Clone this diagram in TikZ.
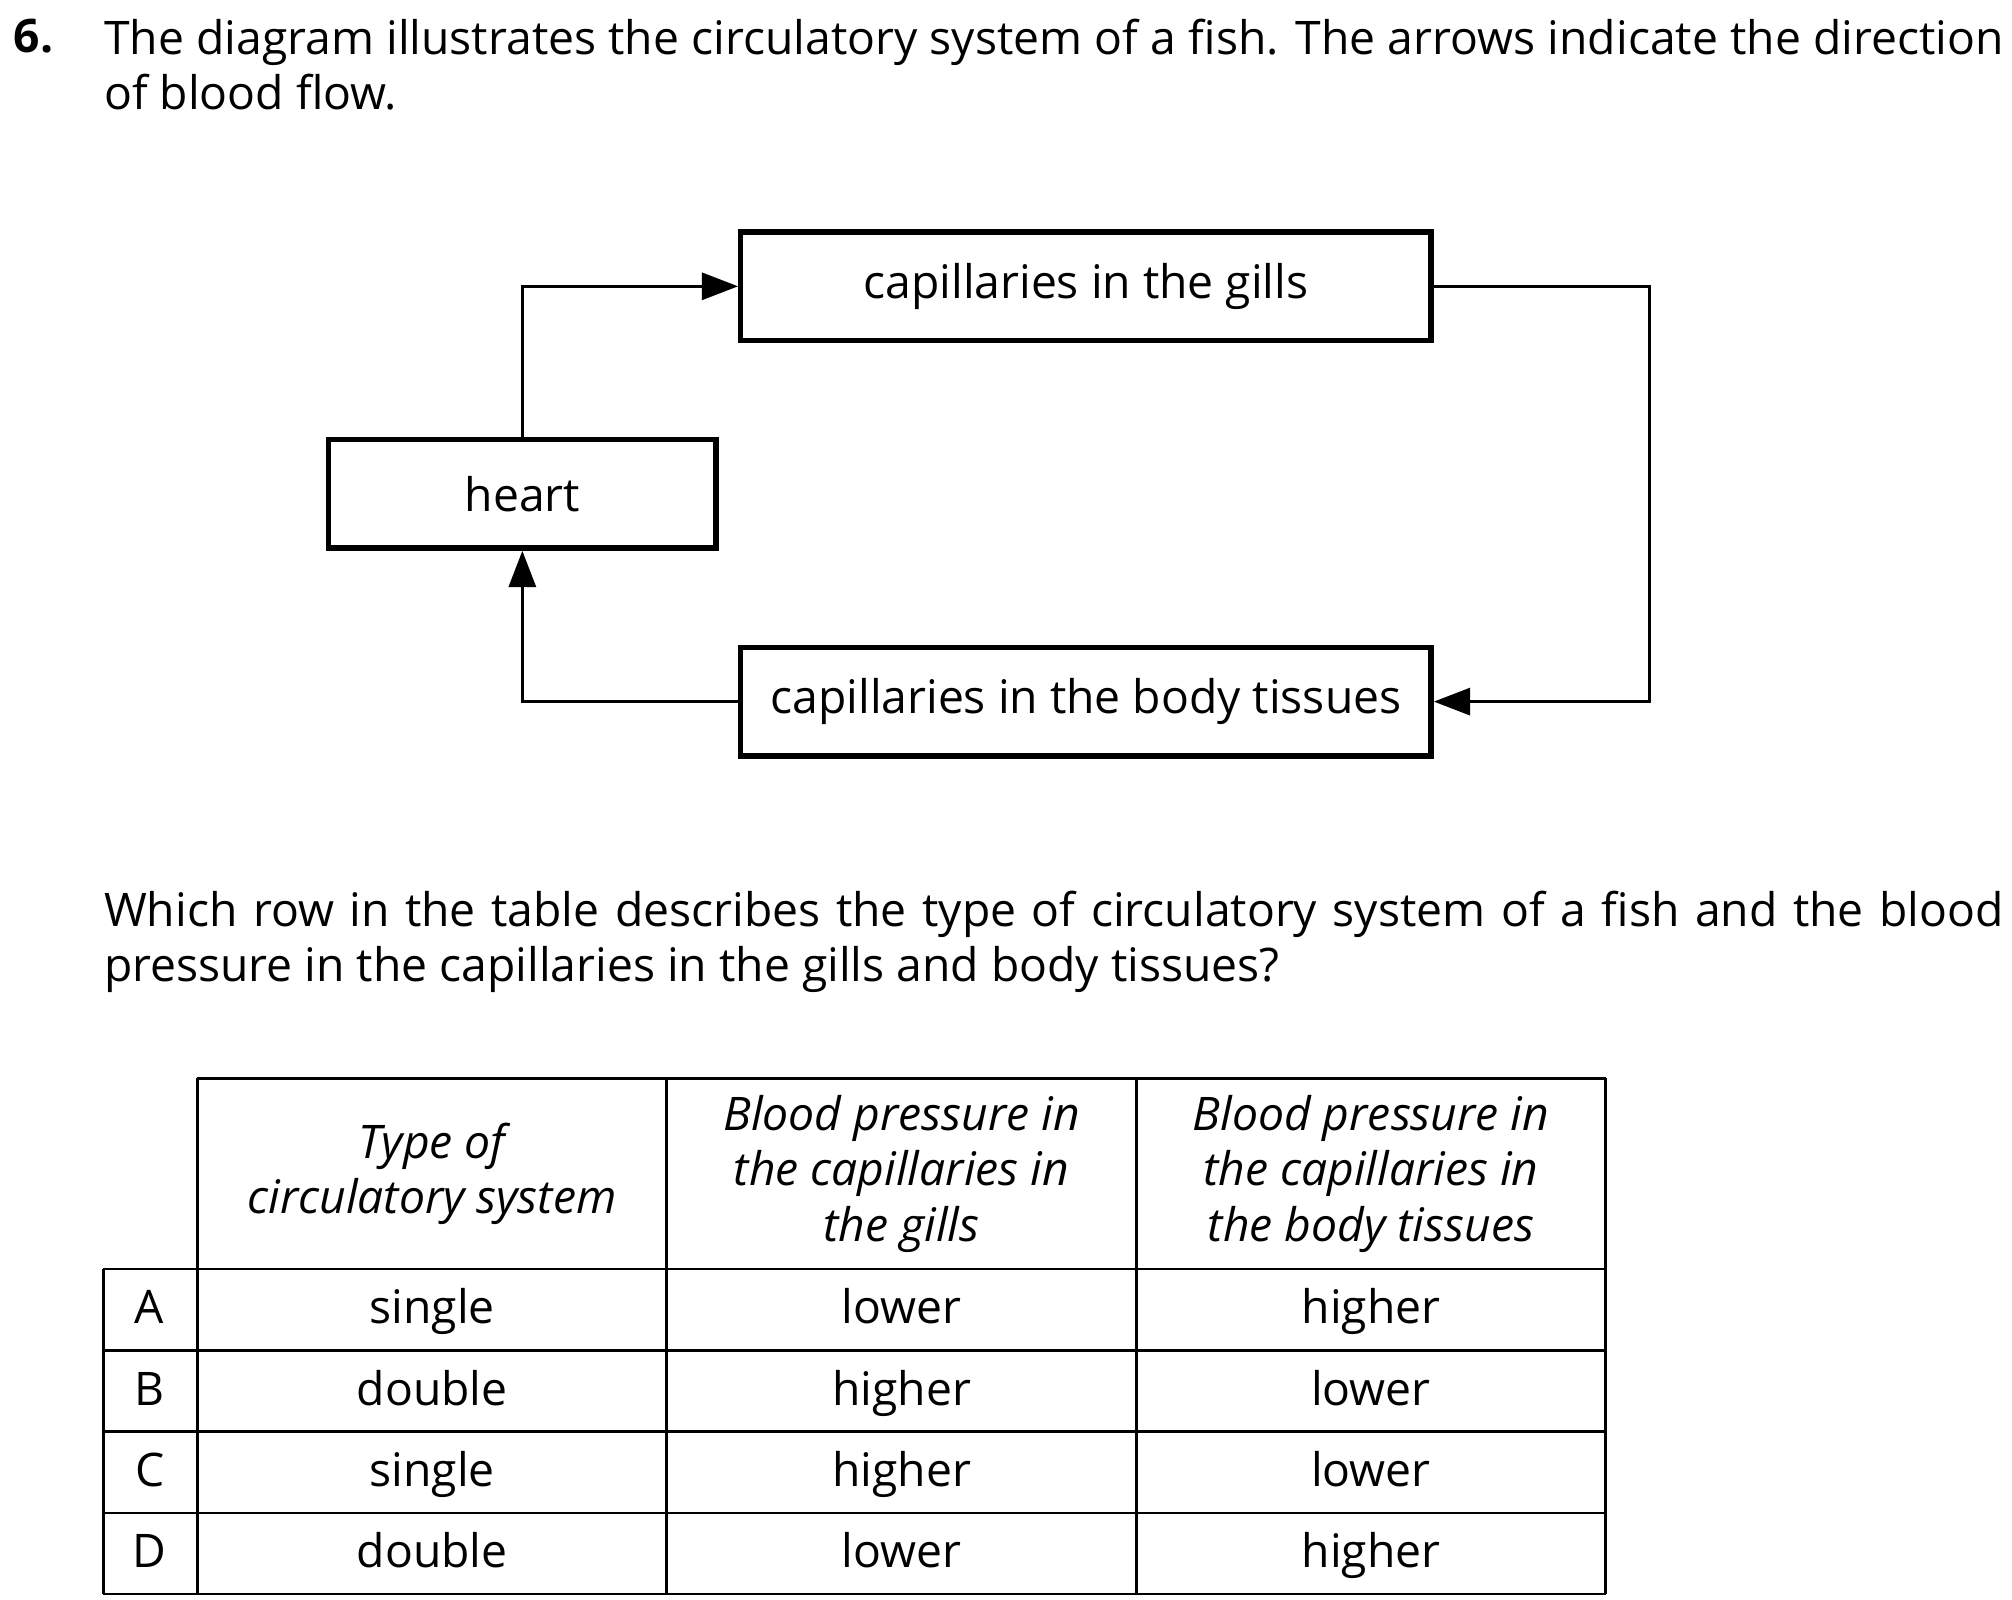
\documentclass[tikz,border=0pt]{standalone}
\usepackage{fontspec}
\setmainfont{Open Sans}
\usetikzlibrary{arrows.meta}
\tikzset{
  organ/.style={draw, line width=1.2pt, minimum height=0.84cm, inner sep=0pt},
  flow/.style={line width=0.6pt},
  flowarrow/.style={flow, -{Triangle[length=8pt, width=6pt]}},
  para/.style={anchor=north west, text width=14.72cm, align=justify, inner sep=0pt},
  cell/.style={inner sep=0pt, align=center},
  entry/.style={cell, text height=1.6ex, text depth=0.45ex},
  grid/.style={line width=0.6pt}
}
\begin{document}
\fontsize{10.2}{12.2}\selectfont
\hyphenpenalty=10000
\begin{tikzpicture}[x=0.01cm, y=-0.01cm]
  \useasboundingbox (0,0) rectangle (1560,1240);

  % question text
  \node[anchor=north west, inner sep=0pt, font=\bfseries] (num) at (10,14) {6.};
  \node[para] (intro) at (80,14) {The diagram illustrates the circulatory system of a fish. The arrows indicate the direction of blood flow.};

  % circulation
  \node[organ, minimum width=5.35cm] (gills) at (842,222) {capillaries in the gills};
  \node[organ, minimum width=3.0cm] (heart) at (405,383) {heart};
  \node[organ, minimum width=5.35cm] (body) at (842,544) {capillaries in the body tissues};
  \coordinate (right) at (1279,0);

  \draw[flowarrow] (heart.north) |- (gills.west);
  \draw[flowarrow] (gills.east) -- (gills.east -| right) -- (body.east -| right) -- (body.east);
  \draw[flowarrow] (body.west) -| (heart.south);

  \node[para] (ask) at (80,690) {Which row in the table describes the type of circulatory system of a fish and the blood pressure in the capillaries in the gills and body tissues?};

  % table
  \draw[grid] (153,836) -- (1245,836);
  \draw[grid] (153,836) -- (153,1236);
  \foreach \x in {517,881,1245}
    \draw[grid] (\x,836) -- (\x,1236);
  \draw[grid] (80,984) -- (80,1236);
  \foreach \y in {984,1047,1110,1173,1236}
    \draw[grid] (80,\y) -- (1245,\y);

  \node[cell, font=\itshape] (h1) at (335,910) {Type of\\circulatory system};
  \node[cell, font=\itshape] (h2) at (699,910) {Blood pressure in\\the capillaries in\\the gills};
  \node[cell, font=\itshape] (h3) at (1063,910) {Blood pressure in\\the capillaries in\\the body tissues};

  \foreach \lab/\typ/\gil/\bod [count=\i] in {A/single/lower/higher, B/double/higher/lower, C/single/higher/lower, D/double/lower/higher}
  {
    \pgfmathsetmacro\rowy{984+63*\i-31.5}
    \node[entry] (r\i a) at (116,\rowy) {\lab};
    \node[entry] (r\i b) at (335,\rowy) {\typ};
    \node[entry] (r\i c) at (699,\rowy) {\gil};
    \node[entry] (r\i d) at (1063,\rowy) {\bod};
  }
\end{tikzpicture}
\end{document}
